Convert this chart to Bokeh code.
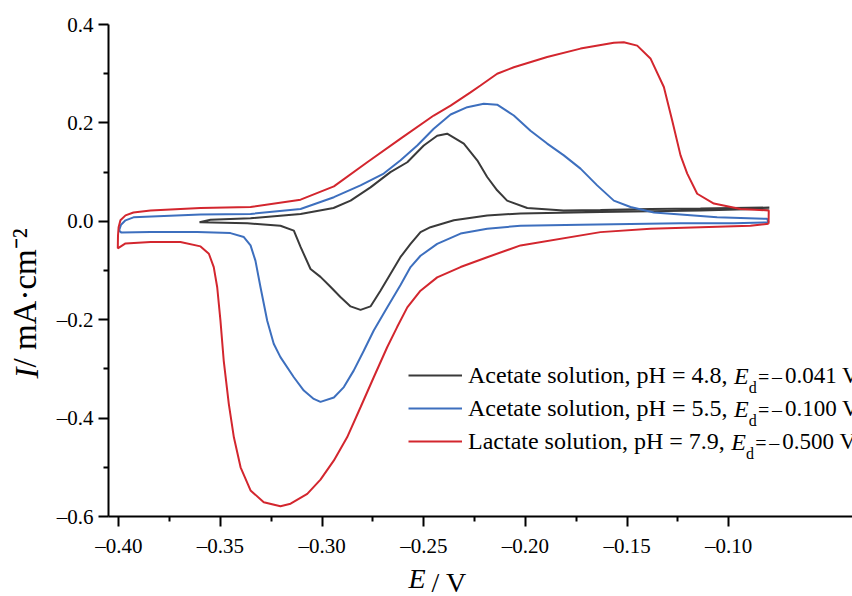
import math
from bokeh.plotting import figure
from bokeh.models import (Range1d, FixedTicker, CustomJSTickFormatter, Label,
                          Legend, LegendItem)
from bokeh.embed import file_html
from bokeh.resources import INLINE

# ---------------- data (E in V, I in mA/cm2) ----------------
black_E = [-0.0800, -0.1139, -0.1631, -0.2024, -0.2188, -0.2352, -0.2467, -0.2516,
           -0.2565, -0.2615, -0.2664, -0.2713, -0.2762, -0.2811, -0.2860, -0.2910,
           -0.2959, -0.3008, -0.3057, -0.3106, -0.3139, -0.3205, -0.3368, -0.3598,
           -0.3603, -0.3549, -0.3352, -0.3106, -0.2944, -0.2860, -0.2762, -0.2664,
           -0.2581, -0.2500, -0.2434, -0.2385, -0.2303, -0.2237, -0.2188, -0.2139,
           -0.2090, -0.1991, -0.1813, -0.1631, -0.1385, -0.1139, -0.0800]
black_I = [0.026, 0.022, 0.019, 0.016, 0.012, 0.002, -0.012, -0.022,
           -0.046, -0.073, -0.107, -0.141, -0.173, -0.180, -0.173, -0.154,
           -0.133, -0.113, -0.097, -0.052, -0.019, -0.009, -0.004, -0.002,
           -0.002, 0.003, 0.006, 0.015, 0.027, 0.042, 0.069, 0.100,
           0.120, 0.154, 0.174, 0.178, 0.158, 0.124, 0.090, 0.063,
           0.042, 0.027, 0.022, 0.023, 0.025, 0.026, 0.028]

blue_E = [-0.0804, -0.0975, -0.1237, -0.1729, -0.2024, -0.2188, -0.2319, -0.2434,
          -0.2516, -0.2565, -0.2615, -0.2680, -0.2746, -0.2795, -0.2844, -0.2893,
          -0.2942, -0.3008, -0.3041, -0.3090, -0.3139, -0.3205, -0.3238, -0.3270,
          -0.3303, -0.3328, -0.3352, -0.3385, -0.3451, -0.3614, -0.3844, -0.3987,
          -0.3999, -0.3989, -0.3967, -0.3928, -0.3598, -0.3352, -0.3106, -0.2942,
          -0.2811, -0.2697, -0.2614, -0.2532, -0.2451, -0.2368, -0.2286, -0.2205,
          -0.2139, -0.2057, -0.1975, -0.1893, -0.1811, -0.1729, -0.1647, -0.1565,
          -0.1483, -0.1368, -0.1237, -0.1057, -0.0811, -0.0804]
blue_I = [-0.002, -0.004, -0.004, -0.007, -0.009, -0.015, -0.025, -0.046,
          -0.070, -0.093, -0.130, -0.175, -0.222, -0.263, -0.303, -0.337,
          -0.358, -0.367, -0.361, -0.344, -0.317, -0.276, -0.249, -0.202,
          -0.134, -0.080, -0.049, -0.032, -0.024, -0.022, -0.022, -0.023,
          -0.019, -0.007, 0.002, 0.008, 0.014, 0.015, 0.025, 0.049,
          0.073, 0.097, 0.124, 0.154, 0.188, 0.217, 0.232, 0.239,
          0.237, 0.215, 0.184, 0.158, 0.134, 0.107, 0.073, 0.042,
          0.029, 0.018, 0.014, 0.008, 0.005, -0.002]

red_E = [-0.0804, -0.0893, -0.1139, -0.1385, -0.1631, -0.2024, -0.2188, -0.2319,
         -0.2434, -0.2516, -0.2581, -0.2631, -0.2680, -0.2746, -0.2811, -0.2877,
         -0.2942, -0.3008, -0.3073, -0.3155, -0.3205, -0.3287, -0.3352, -0.3401,
         -0.3434, -0.3459, -0.3484, -0.3500, -0.3516, -0.3533, -0.3557, -0.3598,
         -0.3697, -0.3844, -0.3967, -0.4005, -0.4004, -0.4001, -0.3992, -0.3967,
         -0.3928, -0.3844, -0.3598, -0.3352, -0.3106, -0.2942, -0.2778, -0.2614,
         -0.2451, -0.2368, -0.2270, -0.2221, -0.2139, -0.2057, -0.1893, -0.1729,
         -0.1565, -0.1516, -0.1450, -0.1385, -0.1319, -0.1278, -0.1237, -0.1204,
         -0.1155, -0.1073, -0.0942, -0.0803, -0.0804]
red_I = [-0.005, -0.009, -0.012, -0.015, -0.022, -0.049, -0.073, -0.093,
         -0.114, -0.141, -0.175, -0.215, -0.256, -0.317, -0.378, -0.439,
         -0.486, -0.525, -0.554, -0.574, -0.579, -0.571, -0.547, -0.500,
         -0.439, -0.371, -0.283, -0.202, -0.134, -0.093, -0.066, -0.051,
         -0.042, -0.042, -0.045, -0.055, -0.029, -0.012, 0.002, 0.012,
         0.018, 0.022, 0.027, 0.029, 0.044, 0.071, 0.120, 0.168,
         0.215, 0.235, 0.262, 0.276, 0.300, 0.313, 0.334, 0.351,
         0.363, 0.364, 0.357, 0.331, 0.273, 0.205, 0.134, 0.097,
         0.056, 0.036, 0.025, 0.022, -0.005]

x_ticks = [-0.40, -0.35, -0.30, -0.25, -0.20, -0.15, -0.10]
x_minor = [-0.375, -0.325, -0.275, -0.225, -0.175, -0.125]
y_ticks = [-0.6, -0.4, -0.2, 0.0, 0.2, 0.4]
y_minor = [-0.5, -0.3, -0.1, 0.1, 0.3]

legend_main = ["Acetate solution, pH = 4.8, ",
               "Acetate solution, pH = 5.5, ",
               "Lactate solution, pH = 7.9, "]
legend_ed = ["0.041 V", "0.100 V", "0.500 V"]

COL_BLACK = "#3a3a3a"
COL_BLUE = "#3d6fbe"
COL_RED = "#d3262e"

FONT = "Liberation Serif"

# Times / Liberation Serif advance widths (per 1000 em)
W = {" ": 250, ",": 250, ".": 250, "/": 278, "=": 564, "\u2013": 500, "\u00b7": 250,
     "A": 722, "E": 611, "H": 722, "L": 611, "V": 722, "I": 333,
     "a": 444, "c": 444, "d": 500, "e": 444, "i": 278, "l": 278, "m": 778,
     "n": 500, "o": 500, "p": 500, "s": 389, "t": 278, "u": 500}
for ch in "0123456789":
    W[ch] = 500


def tw(s, size):
    return sum(W.get(c, 500) for c in s) * size / 1000.0


# ---------------- figure ----------------
FIG_W, FIG_H = 852, 596
FRAME_LEFT, FRAME_TOP, FRAME_BOTTOM = 108, 24, 516  # page px

p = figure(width=FIG_W, height=FIG_H, output_backend="svg", toolbar_location=None,
           x_range=Range1d(-0.40507, -0.03911), y_range=Range1d(-0.6, 0.4),
           min_border_left=FRAME_LEFT, min_border_right=0,
           min_border_top=FRAME_TOP, min_border_bottom=FIG_H - FRAME_BOTTOM)
p.outline_line_color = None
p.xgrid.visible = False
p.ygrid.visible = False
p.background_fill_color = "white"
p.border_fill_color = "white"

r_black = p.line(black_E, black_I, line_color=COL_BLACK, line_width=2)
r_blue = p.line(blue_E, blue_I, line_color=COL_BLUE, line_width=2)
r_red = p.line(red_E, red_I, line_color=COL_RED, line_width=2)

for ax, ticks, minor, fmt in ((p.xaxis[0], x_ticks, x_minor, 2), (p.yaxis[0], y_ticks, y_minor, 1)):
    ax.ticker = FixedTicker(ticks=ticks, minor_ticks=minor)
    ax.formatter = CustomJSTickFormatter(
        code=f"const v = Math.abs(tick) < 1e-9 ? 0 : tick; return (v < 0 ? '\\u2013' : '') + Math.abs(v).toFixed({fmt});")
    ax.axis_line_width = 2
    ax.axis_line_color = "black"
    ax.major_tick_line_width = 2
    ax.minor_tick_line_width = 2
    ax.major_tick_out = 10
    ax.major_tick_in = 0
    ax.minor_tick_out = 5
    ax.minor_tick_in = 0
    ax.major_label_text_font = FONT
    ax.major_label_text_font_size = "21px"
    ax.major_label_text_color = "black"
    ax.axis_label = None

p.xaxis.major_label_standoff = 7
p.yaxis.major_label_standoff = 5

# ---------------- axis titles ----------------
# Each side-panel label is positioned relative to its own panel box.
XL = 28
YL = 33
E_X = 409
# x title: " / V" in the below panel
p.add_layout(Label(x=E_X + tw("E", XL) + 5 - FRAME_LEFT, y=9,
                   x_units="screen", y_units="screen", text=" / V",
                   text_font=FONT, text_font_size=f"{XL}px", text_color="black",
                   text_baseline="alphabetic", text_align="left"), "below")
# y title body, rotated, in the left panel
p.add_layout(Label(x=7, y=FRAME_BOTTOM - (378 - tw("I", YL)),
                   x_units="screen", y_units="screen", text=" / mA\u00b7cm\u207b\u00b2",
                   angle=math.pi / 2, text_font=FONT, text_font_size=f"{YL}px",
                   text_color="black", text_baseline="alphabetic", text_align="left"), "left")
# italic E of the x title, hosted in the left panel
p.add_layout(Label(x=E_X - 8 + 7, y=-62,
                   x_units="screen", y_units="screen", text="E",
                   text_font=FONT, text_font_size=f"{XL}px", text_font_style="italic",
                   text_color="black", text_baseline="alphabetic", text_align="left"), "left")
# italic I of the y title, hosted in the above panel
p.add_layout(Label(x=-82, y=FRAME_TOP - 378,
                   x_units="screen", y_units="screen", text="I", angle=math.pi / 2,
                   text_font=FONT, text_font_size=f"{YL}px", text_font_style="italic",
                   text_color="black", text_baseline="alphabetic", text_align="left"), "above")


def sx(page_x):
    return page_x - FRAME_LEFT


def sy(page_y):
    return FRAME_BOTTOM - page_y


# ---------------- legend ----------------
LS = 24
LS2 = 23
SYM = 20
SUB = 16
GLYPH_W = 54
STANDOFF = 6
ROW_H = 30
SPACING = 3
leg_left = 408
leg_top = 360
legend = Legend(items=[LegendItem(label=t, renderers=[r]) for t, r in
                       zip(legend_main, [r_black, r_blue, r_red])],
                location=(sx(leg_left), sy(leg_top + 3 * ROW_H + 2 * SPACING)),
                padding=0, margin=0, spacing=SPACING, glyph_width=GLYPH_W,
                glyph_height=ROW_H, label_height=ROW_H, label_standoff=STANDOFF,
                label_text_font=FONT, label_text_font_size=f"{LS}px",
                label_text_color="black", border_line_color=None,
                background_fill_alpha=0)
p.add_layout(legend)


def leg_label(x, y, text, size, style="normal"):
    p.add_layout(Label(x=sx(x), y=sy(y), x_units="screen", y_units="screen", text=text,
                       text_font=FONT, text_font_size=f"{size}px", text_font_style=style,
                       text_color="black", text_baseline="middle", text_align="left"))


for i, (main, ed) in enumerate(zip(legend_main, legend_ed)):
    cy = leg_top + ROW_H / 2 + i * (ROW_H + SPACING)
    xe = leg_left + GLYPH_W + STANDOFF + tw(main, LS)
    leg_label(xe, cy, "E", LS, "italic")
    leg_label(xe + tw("E", LS), cy + 12, "d", SUB)
    leg_label(xe + 24, cy + 1, "=", SYM)
    leg_label(xe + 38, cy + 1, "\u2013", SYM)
    leg_label(xe + 51, cy, ed, LS2)

open("out.html", "w").write(file_html(p, INLINE))
